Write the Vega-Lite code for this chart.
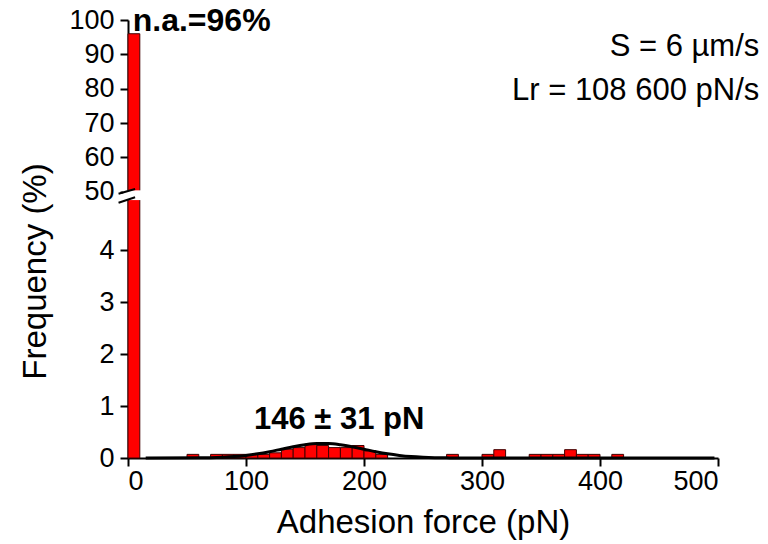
{
  "$schema": "https://vega.github.io/schema/vega-lite/v6.json",
  "width": 590,
  "height": 438,
  "autosize": {"type": "none"},
  "padding": {"left": 128, "top": 20, "right": 50, "bottom": 86},
  "config": {
    "view": {"stroke": null},
    "font": "Liberation Sans",
    "axis": {"grid": false, "domainColor": "black", "tickColor": "black", "domainWidth": 2, "tickWidth": 2, "tickSize": 8, "labelFontSize": 27, "labelColor": "black", "titleColor": "black", "titleFontWeight": "normal", "titleFontSize": 33, "labelFont": "Liberation Sans", "titleFont": "Liberation Sans"}
  },
  "datasets": {
    "bars": [
      {"start": 0, "end": 10, "freq": 96},
      {"start": 50, "end": 60, "freq": 0.07},
      {"start": 70, "end": 80, "freq": 0.07},
      {"start": 80, "end": 90, "freq": 0.07},
      {"start": 90, "end": 100, "freq": 0.07},
      {"start": 100, "end": 110, "freq": 0.07},
      {"start": 110, "end": 120, "freq": 0.07},
      {"start": 120, "end": 130, "freq": 0.1},
      {"start": 130, "end": 140, "freq": 0.17},
      {"start": 140, "end": 150, "freq": 0.2},
      {"start": 150, "end": 160, "freq": 0.27},
      {"start": 160, "end": 170, "freq": 0.24},
      {"start": 170, "end": 180, "freq": 0.2},
      {"start": 180, "end": 190, "freq": 0.2},
      {"start": 190, "end": 200, "freq": 0.24},
      {"start": 200, "end": 210, "freq": 0.14},
      {"start": 210, "end": 220, "freq": 0.07},
      {"start": 270, "end": 280, "freq": 0.07},
      {"start": 300, "end": 310, "freq": 0.07},
      {"start": 310, "end": 320, "freq": 0.16},
      {"start": 340, "end": 350, "freq": 0.07},
      {"start": 350, "end": 360, "freq": 0.07},
      {"start": 360, "end": 370, "freq": 0.07},
      {"start": 370, "end": 380, "freq": 0.16},
      {"start": 380, "end": 390, "freq": 0.07},
      {"start": 390, "end": 400, "freq": 0.07},
      {"start": 410, "end": 420, "freq": 0.07}
    ],
    "fit": [
      {"force": 15, "freq": 0},
      {"force": 60, "freq": 0.004},
      {"force": 70, "freq": 0.007},
      {"force": 80, "freq": 0.015},
      {"force": 90, "freq": 0.028},
      {"force": 100, "freq": 0.05},
      {"force": 110, "freq": 0.081},
      {"force": 120, "freq": 0.122},
      {"force": 130, "freq": 0.17},
      {"force": 140, "freq": 0.217},
      {"force": 150, "freq": 0.255},
      {"force": 160, "freq": 0.277},
      {"force": 170, "freq": 0.277},
      {"force": 180, "freq": 0.255},
      {"force": 190, "freq": 0.217},
      {"force": 200, "freq": 0.17},
      {"force": 210, "freq": 0.122},
      {"force": 220, "freq": 0.081},
      {"force": 230, "freq": 0.05},
      {"force": 240, "freq": 0.028},
      {"force": 250, "freq": 0.015},
      {"force": 260, "freq": 0.007},
      {"force": 270, "freq": 0.003},
      {"force": 280, "freq": 0},
      {"force": 497, "freq": 0}
    ],
    "gap": [{"x": -4, "x2": 12, "y": 4.96, "y2": 50.4}],
    "slashes": [
      {"x": -8, "y": 35, "x2": 6, "y2": 50.8},
      {"x": -8, "y": 4.91, "x2": 6, "y2": 10}
    ],
    "labels": [
      {"x": 4, "y": 99.6, "text": "n.a.=96%", "kind": "bold-left"},
      {"x": 179, "y": 0.73, "text": "146 ± 31 pN", "kind": "bold-center"},
      {"x": 535, "y": 92.1, "text": "S = 6 µm/s", "kind": "right"},
      {"x": 535, "y": 79.2, "text": "Lr = 108 600 pN/s", "kind": "right"}
    ]
  },
  "layer": [
    {
      "data": {"name": "bars"},
      "mark": {"type": "rect", "fill": "#ff0000", "stroke": "#400000", "strokeWidth": 1},
      "encoding": {
        "x": {"field": "start", "type": "quantitative", "scale": {"domain": [0, 500], "nice": false, "zero": false},
          "axis": {"values": [0, 100, 200, 300, 400, 500], "title": "Adhesion force (pN)", "titlePadding": 12, "labelPadding": 2}},
        "x2": {"field": "end"},
        "y": {"field": "freq", "type": "quantitative",
          "scale": {"domain": [0, 5, 50, 100], "range": [438, 178, 171.7, 0], "nice": false, "zero": false},
          "axis": {"values": [0, 1, 2, 3, 4, 50, 60, 70, 80, 90, 100], "title": "Frequency (%)", "titleY": 251, "titleX": -93, "titleBaseline": "middle", "labelPadding": 6}},
        "y2": {"datum": 0}
      }
    },
    {
      "data": {"name": "fit"},
      "mark": {"type": "line", "color": "black", "strokeWidth": 3, "interpolate": "monotone"},
      "encoding": {
        "x": {"field": "force", "type": "quantitative"},
        "y": {"field": "freq", "type": "quantitative"}
      }
    },
    {
      "data": {"name": "gap"},
      "mark": {"type": "rect", "fill": "white"},
      "encoding": {
        "x": {"field": "x", "type": "quantitative"},
        "x2": {"field": "x2"},
        "y": {"field": "y", "type": "quantitative"},
        "y2": {"field": "y2"}
      }
    },
    {
      "data": {"name": "slashes"},
      "mark": {"type": "rule", "color": "black", "strokeWidth": 2},
      "encoding": {
        "x": {"field": "x", "type": "quantitative"},
        "x2": {"field": "x2"},
        "y": {"field": "y", "type": "quantitative"},
        "y2": {"field": "y2"}
      }
    },
    {
      "data": {"name": "labels"},
      "transform": [{"filter": "datum.kind == 'bold-left'"}],
      "mark": {"type": "text", "align": "left", "baseline": "middle", "fontSize": 32, "fontWeight": "bold", "color": "black"},
      "encoding": {
        "x": {"field": "x", "type": "quantitative"},
        "y": {"field": "y", "type": "quantitative"},
        "text": {"field": "text"}
      }
    },
    {
      "data": {"name": "labels"},
      "transform": [{"filter": "datum.kind == 'bold-center'"}],
      "mark": {"type": "text", "align": "center", "baseline": "middle", "fontSize": 31, "fontWeight": "bold", "color": "black"},
      "encoding": {
        "x": {"field": "x", "type": "quantitative"},
        "y": {"field": "y", "type": "quantitative"},
        "text": {"field": "text"}
      }
    },
    {
      "data": {"name": "labels"},
      "transform": [{"filter": "datum.kind == 'right'"}],
      "mark": {"type": "text", "align": "right", "baseline": "middle", "fontSize": 31, "color": "black"},
      "encoding": {
        "x": {"field": "x", "type": "quantitative"},
        "y": {"field": "y", "type": "quantitative"},
        "text": {"field": "text"}
      }
    }
  ]
}
